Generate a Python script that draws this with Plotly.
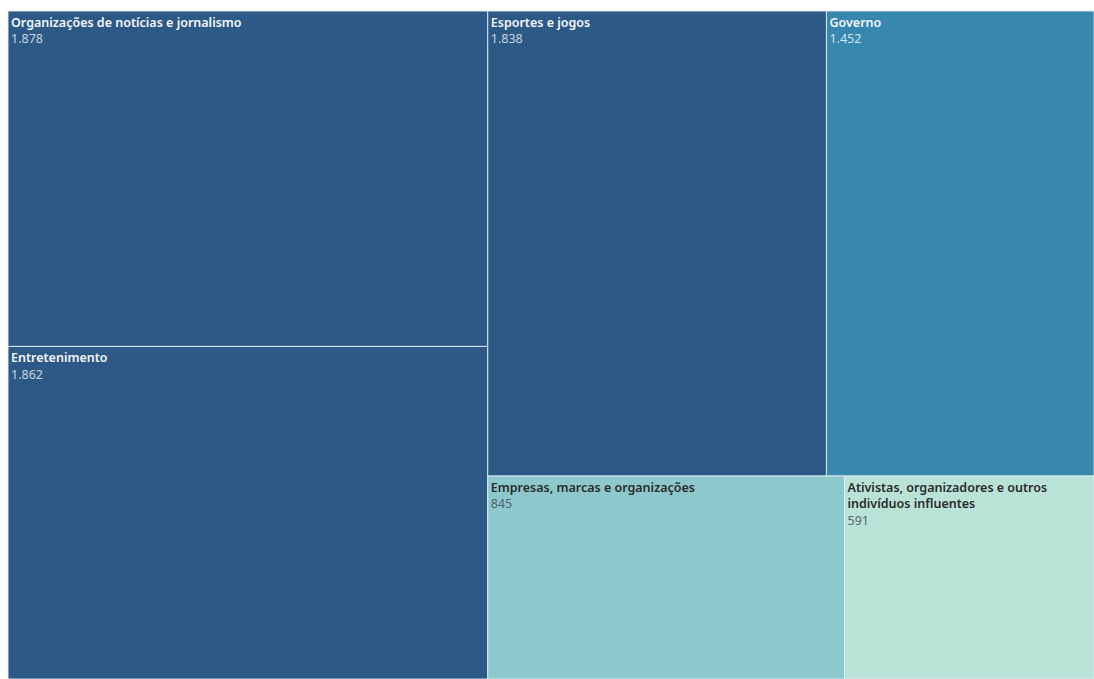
import plotly.graph_objects as go

categories = [
    "Organizações de notícias e jornalismo",
    "Entretenimento",
    "Esportes e jogos",
    "Governo",
    "Empresas, marcas e organizações",
    "Ativistas, organizadores e outros indivíduos influentes",
]
display_labels = [
    "Organizações de notícias e jornalismo",
    "Entretenimento",
    "Esportes e jogos",
    "Governo",
    "Empresas, marcas e organizações",
    "Ativistas, organizadores e outros<br>indivíduos influentes",
]
values = [1878, 1862, 1838, 1452, 845, 591]
tile_colors = ["#2c5985", "#2c5985", "#2c5985", "#3787ae", "#8dc9cc", "#bae3d8"]
label_colors = ["#f4f6f9", "#f4f6f9", "#f4f6f9", "#f4f6f9", "#2b2b2b", "#2b2b2b"]
value_colors = ["#c9d3de", "#c9d3de", "#c9d3de", "#d2e4ee", "#4f5f66", "#55656a"]


def fmt(v):
    return f"{v:,}".replace(",", ".")


texts = [
    f"<span style='color:{lc}; font-weight:600'>{lab}</span><br>"
    f"<span style='color:{vc}; font-weight:400'>{fmt(v)}</span>"
    for lab, v, lc, vc in zip(display_labels, values, label_colors, value_colors)
]

fig = go.Figure(
    go.Treemap(
        labels=categories,
        parents=[""] * len(categories),
        values=values,
        text=texts,
        texttemplate="%{text}",
        textposition="top left",
        textfont=dict(family="Noto Sans, Open Sans, sans-serif", size=12.5),
        marker=dict(
            colors=tile_colors,
            line=dict(color="rgba(225,235,245,0.9)", width=1),
            pad=dict(t=0, l=0, r=0, b=0),
        ),
        tiling=dict(packing="squarify", pad=0),
        pathbar=dict(visible=False),
        sort=True,
        hoverinfo="label+value",
    )
)

fig.update_layout(
    width=1094,
    height=679,
    margin=dict(l=8, r=0, t=11, b=0),
    paper_bgcolor="white",
    uniformtext=dict(minsize=8),
)

fig.write_html("out.html")
